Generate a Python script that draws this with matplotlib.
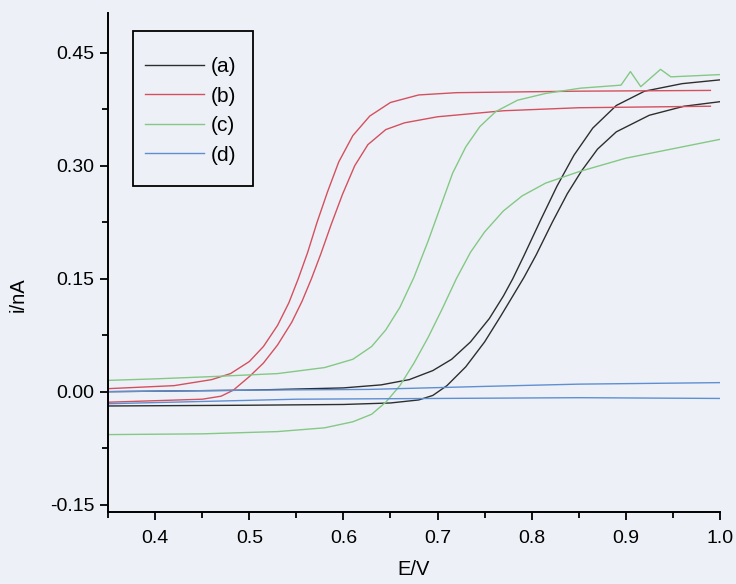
import matplotlib
matplotlib.use('Agg')
import matplotlib.pyplot as plt
from matplotlib.patches import Rectangle
from matplotlib.ticker import MultipleLocator, FormatStrFormatter

plt.rcParams['font.family'] = ['Liberation Sans', 'DejaVu Sans']

# (a) forward / reverse scan
a_fwd_E = [0.35, 0.50, 0.60, 0.64, 0.67, 0.695, 0.715, 0.735, 0.755, 0.77, 0.78, 0.792, 0.81, 0.827, 0.845, 0.865, 0.89, 0.92, 0.96, 1.0]
a_fwd_i = [0.0, 0.002, 0.005, 0.009, 0.016, 0.028, 0.043, 0.066, 0.097, 0.127, 0.150, 0.181, 0.229, 0.273, 0.314, 0.350, 0.380, 0.399, 0.409, 0.414]
a_rev_E = [0.35, 0.50, 0.60, 0.65, 0.68, 0.695, 0.71, 0.73, 0.75, 0.767, 0.78, 0.792, 0.805, 0.822, 0.838, 0.853, 0.87, 0.89, 0.925, 0.962, 1.0]
a_rev_i = [-0.019, -0.018, -0.017, -0.015, -0.011, -0.005, 0.008, 0.033, 0.066, 0.100, 0.127, 0.152, 0.182, 0.225, 0.263, 0.293, 0.322, 0.345, 0.367, 0.379, 0.385]

# (b)
b_fwd_E = [0.35, 0.42, 0.46, 0.48, 0.50, 0.515, 0.53, 0.542, 0.552, 0.562, 0.572, 0.583, 0.595, 0.61, 0.628, 0.65, 0.68, 0.72, 0.85, 0.99]
b_fwd_i = [0.004, 0.008, 0.016, 0.024, 0.040, 0.060, 0.088, 0.118, 0.150, 0.185, 0.225, 0.265, 0.305, 0.340, 0.366, 0.384, 0.394, 0.397, 0.399, 0.400]
b_rev_E = [0.35, 0.40, 0.45, 0.47, 0.483, 0.50, 0.515, 0.53, 0.545, 0.556, 0.566, 0.576, 0.587, 0.599, 0.612, 0.626, 0.645, 0.665, 0.70, 0.77, 0.85, 0.99]
b_rev_i = [-0.014, -0.012, -0.010, -0.006, 0.002, 0.020, 0.038, 0.062, 0.092, 0.120, 0.150, 0.183, 0.222, 0.262, 0.300, 0.328, 0.348, 0.357, 0.365, 0.373, 0.377, 0.379]

# (c)
c_fwd_E = [0.35, 0.40, 0.46, 0.53, 0.58, 0.61, 0.63, 0.645, 0.66, 0.675, 0.69, 0.703, 0.716, 0.73, 0.745, 0.762, 0.785, 0.815, 0.852, 0.895, 0.905, 0.916, 0.937, 0.948, 1.0]
c_fwd_i = [0.015, 0.017, 0.020, 0.024, 0.032, 0.043, 0.060, 0.082, 0.112, 0.152, 0.200, 0.245, 0.290, 0.325, 0.352, 0.372, 0.387, 0.396, 0.403, 0.407, 0.425, 0.405, 0.428, 0.418, 0.421]
c_rev_E = [0.35, 0.45, 0.53, 0.58, 0.61, 0.63, 0.645, 0.66, 0.675, 0.69, 0.705, 0.72, 0.735, 0.75, 0.77, 0.79, 0.815, 0.85, 0.90, 0.96, 1.0]
c_rev_i = [-0.057, -0.056, -0.053, -0.048, -0.040, -0.030, -0.014, 0.008, 0.038, 0.072, 0.110, 0.150, 0.185, 0.212, 0.240, 0.260, 0.277, 0.292, 0.310, 0.325, 0.335]

# (d)
d_fwd_E = [0.35, 0.50, 0.627, 0.75, 0.85, 1.0]
d_fwd_i = [0.0, 0.002, 0.003, 0.007, 0.010, 0.012]
d_rev_E = [0.35, 0.45, 0.55, 0.70, 0.85, 1.0]
d_rev_i = [-0.016, -0.013, -0.010, -0.009, -0.008, -0.009]

labels = ['(a)', '(b)', '(c)', '(d)']
colors = ['#2e2e2e', '#d4505e', '#84c884', '#5f8fd2']

bg = '#edf1f7'
fig = plt.figure(figsize=(7.36, 5.84), dpi=100, facecolor=bg)
ax = fig.add_axes([0.147, 0.123, 0.831, 0.855], facecolor=bg)

curves = [
    (a_fwd_E, a_fwd_i, a_rev_E, a_rev_i),
    (b_fwd_E, b_fwd_i, b_rev_E, b_rev_i),
    (c_fwd_E, c_fwd_i, c_rev_E, c_rev_i),
    (d_fwd_E, d_fwd_i, d_rev_E, d_rev_i),
]
for (fe, fi, re_, ri), lab, col in zip(curves, labels, colors):
    ax.plot(fe, fi, color=col, lw=1.0, label=lab)
    ax.plot(re_, ri, color=col, lw=1.0)

ax.set_xlim(0.35, 1.0)
ax.set_ylim(-0.16, 0.503)
ax.xaxis.set_major_locator(MultipleLocator(0.1))
ax.xaxis.set_minor_locator(MultipleLocator(0.05))
ax.yaxis.set_major_locator(MultipleLocator(0.15))
ax.yaxis.set_minor_locator(MultipleLocator(0.075))
ax.xaxis.set_major_formatter(FormatStrFormatter('%.1f'))
ax.yaxis.set_major_formatter(FormatStrFormatter('%.2f'))

for s in ['top', 'right']:
    ax.spines[s].set_visible(False)
for s in ['left', 'bottom']:
    ax.spines[s].set_linewidth(1.4)

ax.tick_params(which='major', direction='out', length=6, width=1.3, labelsize=14)
ax.tick_params(which='minor', direction='out', length=4, width=1.3)
ax.tick_params(axis='x', which='major', pad=7)
ax.tick_params(axis='y', which='major', pad=4)

ax.set_xlabel('E/V', fontsize=14.5, labelpad=9)
ax.set_ylabel('i/nA', fontsize=14.5)
ax.yaxis.set_label_coords(-0.132, 0.435)

# legend entries without frame, box drawn separately
leg = ax.legend(loc='upper left', bbox_to_anchor=(0.0605, 0.911), fontsize=15,
                handlelength=2.8, handletextpad=0.34, labelspacing=0.5,
                borderpad=0, borderaxespad=0, frameon=False)
ax.add_patch(Rectangle((0.0408, 0.653), 0.196, 0.311, transform=ax.transAxes,
                       fill=False, edgecolor='black', lw=1.3, zorder=5))

fig.savefig('out.png', dpi=100, facecolor=bg)
